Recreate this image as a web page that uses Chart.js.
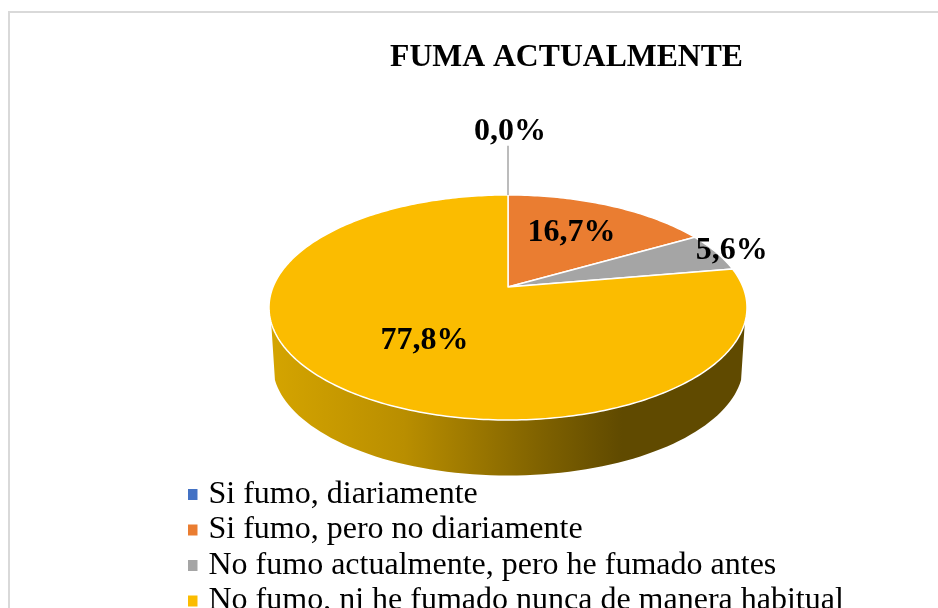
<!DOCTYPE html>
<html>
<head>
<meta charset="utf-8">
<title>Fuma actualmente</title>
<script src="https://cdn.jsdelivr.net/npm/chart.js@4"></script>
<style>
html, body { margin: 0; padding: 0; background: #fff; overflow: hidden; }
#wrap { width: 938px; height: 608px; }
</style>
</head>
<body>
<div id="wrap"><canvas id="myChart" width="938" height="608"></canvas></div>
<script>
var lab = ['Si fumo, diariamente', 'Si fumo, pero no diariamente',
           'No fumo actualmente, pero he fumado antes', 'No fumo, ni he fumado nunca de manera habitual'];
var dat = [0, 16.7, 5.6, 77.8];
var colors = ['#4472c4', '#ea7d31', '#a5a5a5', '#fbbc00'];
var titleText = 'FUMA ACTUALMENTE';

// the tilted pie: apex and perspective of the top face
var pie = {x: 508, y: 287, a: 235, b: 108.8, k: -0.182, depth: 58, inset: 0.985};
// where each value label sits, as a fraction of the radius plus a small nudge
var labelRadius = [1.99, 0.62, 1.08, 0.53];
var labelNudge = [[2, 4], [-3, -1], [0, 1], [3, 6]];
var leaderRadius = 1.7;
var serif = '"Liberation Serif", "Times New Roman", serif';

// t is clockwise from the top, r the fraction of the radius
function project(t, r) {
  var u = Math.sin(t) * r, v = -Math.cos(t) * r;
  var d = 1 + pie.k * v;
  return {x: pie.x + pie.a * u / d, y: pie.y + pie.b * v / d};
}

function arcPath(ctx, from, to) {
  ctx.beginPath();
  ctx.moveTo(pie.x, pie.y);
  var n = Math.max(2, Math.ceil((to - from) * 60));
  for (var i = 0; i <= n; i++) {
    var p = project(from + (to - from) * i / n, 1);
    ctx.lineTo(p.x, p.y);
  }
  ctx.closePath();
}

function drawSide(ctx) {
  var from = 108 * Math.PI / 180, to = 252 * Math.PI / 180, i, p;
  var g = ctx.createLinearGradient(272, 0, 745, 0);
  g.addColorStop(0, '#d4a400');
  g.addColorStop(0.28, '#b98e00');
  g.addColorStop(0.58, '#7d6000');
  g.addColorStop(0.74, '#604a00');
  g.addColorStop(1, '#604a00');
  ctx.beginPath();
  for (i = 0; i <= 80; i++) {
    p = project(from + (to - from) * i / 80, 1);
    ctx.lineTo(p.x, p.y);
  }
  for (i = 80; i >= 0; i--) {
    p = project(from + (to - from) * i / 80, pie.inset);
    ctx.lineTo(p.x, p.y + pie.depth);
  }
  ctx.closePath();
  ctx.fillStyle = g;
  ctx.fill();
}

var tiltedPie = {
  id: 'tiltedPie',
  afterLayout: function(chart) {
    // title sits right of centre, legend is a left aligned block under the pie
    chart.titleBlock.left = 195;
    var lg = chart.legend;
    lg.left = 188; lg.right = 938; lg.top = 475; lg.bottom = 720;
    lg.width = 750; lg.height = 245;
  },
  beforeDraw: function(chart) {
    var ctx = chart.ctx;
    ctx.save();
    ctx.fillStyle = '#fff';
    ctx.fillRect(0, 0, chart.width, chart.height);
    ctx.fillStyle = '#d9d9d9';
    ctx.fillRect(8, 11, chart.width - 8, 2);
    ctx.fillRect(8, 11, 2, chart.height - 11);
    ctx.restore();
  },
  beforeDatasetDraw: function(chart) {
    var ctx = chart.ctx;
    var arcs = chart.getDatasetMeta(0).data;
    ctx.save();
    drawSide(ctx);
    arcs.forEach(function(arc, i) {
      if (dat[i] === 0) return;
      arcPath(ctx, arc.startAngle + Math.PI / 2, arc.endAngle + Math.PI / 2);
      ctx.fillStyle = colors[i];
      ctx.fill();
      ctx.strokeStyle = '#fff';
      ctx.lineWidth = 1.5;
      ctx.lineJoin = 'round';
      ctx.stroke();
    });
    ctx.restore();
    return false;
  },
  afterDatasetsDraw: function(chart) {
    var ctx = chart.ctx;
    var arcs = chart.getDatasetMeta(0).data;
    ctx.save();
    // leader of the empty slice
    var a0 = arcs[0].startAngle + Math.PI / 2;
    var p0 = project(a0, 1), p1 = project(a0, leaderRadius);
    ctx.strokeStyle = '#a6a6a6';
    ctx.lineWidth = 1.5;
    ctx.beginPath();
    ctx.moveTo(p0.x, p0.y);
    ctx.lineTo(p1.x, p1.y);
    ctx.stroke();
    ctx.fillStyle = '#000';
    ctx.font = 'bold 32px ' + serif;
    ctx.textAlign = 'center';
    ctx.textBaseline = 'middle';
    arcs.forEach(function(arc, i) {
      var mid = (arc.startAngle + arc.endAngle) / 2 + Math.PI / 2;
      var p = project(mid, labelRadius[i]);
      ctx.fillText(dat[i].toFixed(1).replace('.', ',') + '%', p.x + labelNudge[i][0], p.y + labelNudge[i][1]);
    });
    ctx.restore();
  }
};

var ctx = document.getElementById('myChart').getContext('2d');
var myChart = new Chart(ctx, {
  type: 'pie',
  data: {
    labels: lab,
    datasets: [{data: dat, backgroundColor: colors, borderWidth: 0}]
  },
  options: {
    responsive: false,
    animation: false,
    plugins: {
      tooltip: {enabled: false},
      title: {
        display: true,
        text: titleText,
        color: '#000',
        font: {family: serif, size: 31.7, weight: 'bold'},
        padding: {top: 39, bottom: 10}
      },
      legend: {
        position: 'left',
        align: 'start',
        labels: {
          color: '#000',
          font: {family: serif, size: 32},
          usePointStyle: true,
          pointStyle: 'rect',
          boxWidth: 1,
          boxHeight: 11,
          padding: 3.5
        }
      }
    }
  },
  plugins: [tiltedPie]
});
</script>
</body>
</html>
